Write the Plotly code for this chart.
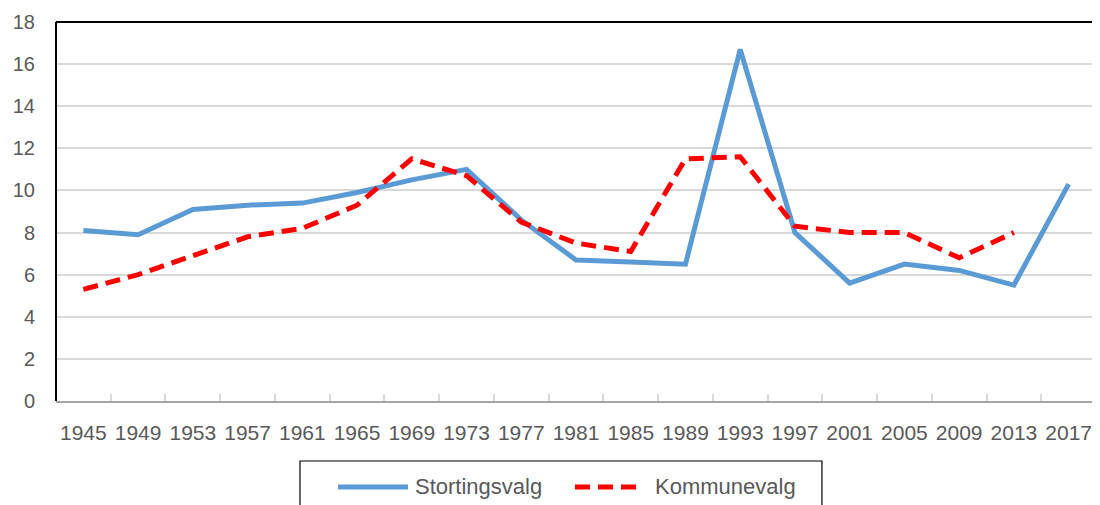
import plotly.graph_objects as go

years = ["1945", "1949", "1953", "1957", "1961", "1965", "1969", "1973", "1977", "1981",
         "1985", "1989", "1993", "1997", "2001", "2005", "2009", "2013", "2017"]
stortingsvalg = [8.1, 7.9, 9.1, 9.3, 9.4, 9.9, 10.5, 11.0, 8.6, 6.7,
                 6.6, 6.5, 16.7, 8.0, 5.6, 6.5, 6.2, 5.5, 10.3]
kommunevalg = [5.3, 6.0, 6.9, 7.8, 8.2, 9.3, 11.5, 10.7, 8.5, 7.5,
               7.1, 11.5, 11.6, 8.3, 8.0, 8.0, 6.8, 8.0, None]

yticks = [0, 2, 4, 6, 8, 10, 12, 14, 16, 18]

FONT = "Liberation Sans, Arial, sans-serif"
GRAY = "#595959"
BLUE = "#5b9bd5"
RED = "#ff0000"
RED_DASH = "15px,8px"

fig = go.Figure()
fig.add_trace(go.Scatter(
    x=years, y=stortingsvalg, name="Stortingsvalg", mode="lines",
    line=dict(color=BLUE, width=5), showlegend=False,
))
fig.add_trace(go.Scatter(
    x=years, y=kommunevalg, name="Kommunevalg", mode="lines",
    line=dict(color=RED, width=5, dash=RED_DASH),
    connectgaps=False, showlegend=False,
))

# page body has an 8px margin; size/margins compensate for it
fig.update_layout(
    width=1092, height=497,
    margin=dict(l=48, r=4, t=14, b=104, autoexpand=False),
    paper_bgcolor="white", plot_bgcolor="white",
    font=dict(family=FONT, color=GRAY, size=20),
    showlegend=False,
    xaxis=dict(
        type="category", categoryorder="array", categoryarray=years,
        range=[-0.5, len(years) - 0.5],
        tickvals=years, ticktext=years, tickangle=0,
        showgrid=False, showline=True, linecolor="#a6a6a6", linewidth=1.5,
        ticks="inside", tickson="boundaries", ticklen=7, tickcolor="#d9d9d9",
        tickwidth=1.5, ticklabelstandoff=12,
        tickfont=dict(size=21, color=GRAY, family=FONT),
        zeroline=False, fixedrange=True,
    ),
    yaxis=dict(
        range=[0, 18], tickvals=yticks, ticktext=[str(v) for v in yticks],
        showgrid=True, gridcolor="#d9d9d9", gridwidth=1.5,
        showline=False, zeroline=False, ticks="",
        ticklabelstandoff=20,
        tickfont=dict(size=20, color=GRAY, family=FONT),
        fixedrange=True,
    ),
)

# plot-area frame (black top, left, right)
for x0, x1, y0, y1 in [(0, 1, 1, 1), (0, 0, 0, 1), (1, 1, 0, 1)]:
    fig.add_shape(type="line", xref="paper", yref="paper", x0=x0, x1=x1, y0=y0, y1=y1,
                  line=dict(color="black", width=2))

# legend box (drawn below the plot)
fig.add_shape(type="rect", xref="paper", yref="paper",
              x0=0.2346, x1=0.7365, y0=-0.30, y1=-0.1583,
              line=dict(color="black", width=1.2), fillcolor="white")
legend_y = -0.2269
fig.add_shape(type="line", xref="paper", yref="paper", x0=0.2712, x1=0.3385,
              y0=legend_y, y1=legend_y, line=dict(color=BLUE, width=5))
fig.add_shape(type="line", xref="paper", yref="paper", x0=0.4990, x1=0.5615,
              y0=legend_y, y1=legend_y, line=dict(color=RED, width=5, dash=RED_DASH))
fig.add_annotation(text="Stortingsvalg", xref="paper", yref="paper", x=0.3433, y=legend_y,
                   xanchor="left", yanchor="middle", showarrow=False,
                   font=dict(size=22, color=GRAY, family=FONT))
fig.add_annotation(text="Kommunevalg", xref="paper", yref="paper", x=0.5740, y=legend_y,
                   xanchor="left", yanchor="middle", showarrow=False,
                   font=dict(size=22, color=GRAY, family=FONT))

fig.write_html("out.html")
